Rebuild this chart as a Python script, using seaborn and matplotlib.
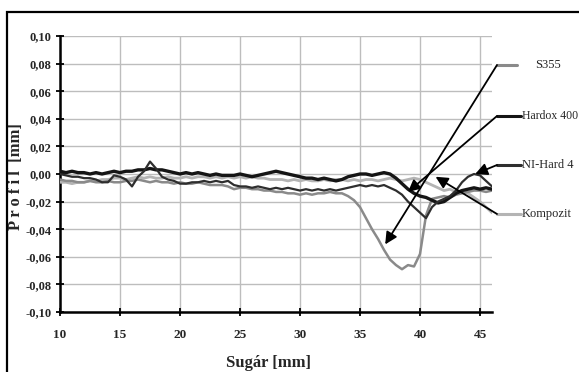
import numpy as np
import pandas as pd
import matplotlib
matplotlib.use("Agg")
import matplotlib.pyplot as plt
import seaborn as sns
from matplotlib.patches import Rectangle

# ---------------- data ----------------
sugar = [10.0, 10.5, 11.0, 11.5, 12.0, 12.5, 13.0, 13.5, 14.0, 14.5,
         15.0, 15.5, 16.0, 16.5, 17.0, 17.5, 18.0, 18.5, 19.0, 19.5,
         20.0, 20.5, 21.0, 21.5, 22.0, 22.5, 23.0, 23.5, 24.0, 24.5,
         25.0, 25.5, 26.0, 26.5, 27.0, 27.5, 28.0, 28.5, 29.0, 29.5,
         30.0, 30.5, 31.0, 31.5, 32.0, 32.5, 33.0, 33.5, 34.0, 34.5,
         35.0, 35.5, 36.0, 36.5, 37.0, 37.5, 38.0, 38.5, 39.0, 39.5,
         40.0, 40.5, 41.0, 41.5, 42.0, 42.5, 43.0, 43.5, 44.0, 44.5,
         45.0, 45.5, 46.0]

s355 = [-0.004, -0.005, -0.005, -0.006, -0.006, -0.005, -0.006, -0.006, -0.005, -0.006,
        -0.006, -0.005, -0.005, -0.004, -0.005, -0.006, -0.005, -0.006, -0.006, -0.007,
        -0.006, -0.007, -0.007, -0.006, -0.007, -0.008, -0.008, -0.008, -0.009, -0.011,
        -0.010, -0.010, -0.011, -0.011, -0.012, -0.012, -0.013, -0.013, -0.014, -0.014,
        -0.015, -0.014, -0.015, -0.014, -0.014, -0.013, -0.014, -0.014, -0.016, -0.019,
        -0.024, -0.032, -0.040, -0.047, -0.055, -0.062, -0.066, -0.069, -0.066, -0.067,
        -0.058, -0.030, -0.018, -0.017, -0.016, -0.017, -0.015, -0.014, -0.013, -0.012,
        -0.012, -0.013, -0.012]

hardox400 = [0.002, 0.001, 0.002, 0.001, 0.001, 0.000, 0.001, 0.000, 0.001, 0.002,
             0.001, 0.002, 0.002, 0.003, 0.003, 0.004, 0.003, 0.003, 0.002, 0.001,
             0.000, 0.001, 0.000, 0.001, 0.000, -0.001, 0.000, -0.001, -0.001, -0.001,
             0.000, -0.001, -0.002, -0.001, 0.000, 0.001, 0.002, 0.001, 0.000, -0.001,
             -0.002, -0.003, -0.003, -0.004, -0.003, -0.004, -0.005, -0.004, -0.002, -0.001,
             0.000, 0.000, -0.001, 0.000, 0.001, 0.000, -0.003, -0.007, -0.011, -0.014,
             -0.016, -0.017, -0.019, -0.021, -0.020, -0.017, -0.014, -0.012, -0.011, -0.010,
             -0.011, -0.010, -0.011]

nihard4 = [0.000, -0.001, -0.002, -0.002, -0.003, -0.003, -0.004, -0.006, -0.006, -0.001,
           -0.002, -0.004, -0.009, -0.002, 0.002, 0.009, 0.004, -0.002, -0.004, -0.005,
           -0.007, -0.007, -0.006, -0.006, -0.005, -0.006, -0.005, -0.006, -0.005, -0.008,
           -0.009, -0.009, -0.010, -0.009, -0.010, -0.011, -0.010, -0.011, -0.010, -0.011,
           -0.012, -0.011, -0.012, -0.011, -0.012, -0.011, -0.012, -0.011, -0.010, -0.009,
           -0.008, -0.009, -0.008, -0.009, -0.008, -0.010, -0.012, -0.015, -0.020, -0.024,
           -0.028, -0.032, -0.024, -0.020, -0.018, -0.016, -0.012, -0.006, -0.002, 0.000,
           -0.001, -0.005, -0.009]

kompozit = [-0.006, -0.006, -0.007, -0.006, -0.006, -0.005, -0.005, -0.004, -0.004, -0.003,
            -0.003, -0.004, -0.003, -0.002, -0.003, -0.002, -0.003, -0.003, -0.002, -0.003,
            -0.003, -0.002, -0.003, -0.002, -0.002, -0.003, -0.002, -0.003, -0.002, -0.003,
            -0.002, -0.003, -0.002, -0.003, -0.003, -0.004, -0.004, -0.004, -0.005, -0.004,
            -0.005, -0.004, -0.005, -0.005, -0.004, -0.005, -0.004, -0.004, -0.005, -0.004,
            -0.005, -0.004, -0.004, -0.005, -0.004, -0.003, -0.004, -0.005, -0.004, -0.003,
            -0.004, -0.006, -0.008, -0.010, -0.012, -0.011, -0.013, -0.012, -0.014, -0.017,
            -0.020, -0.024, -0.028]

series_names = ["S355", "Hardox 400", "NI-Hard 4", "Kompozit"]
series_values = [s355, hardox400, nihard4, kompozit]
x_ticks = [10, 15, 20, 25, 30, 35, 40, 45]
y_ticks = [-0.10, -0.08, -0.06, -0.04, -0.02, 0.00, 0.02, 0.04, 0.06, 0.08, 0.10]
# arrow targets (x, y) for each series label
arrow_targets = [(37.1, -0.051), (39.0, -0.013), (44.6, 0.000), (41.3, -0.002)]

# ---------------- styling ----------------
colors = {"S355": "#8a8a8a", "Hardox 400": "#151515", "NI-Hard 4": "#2e2e2e", "Kompozit": "#b4b4b4"}
widths = {"S355": 1.8, "Hardox 400": 2.4, "NI-Hard 4": 1.6, "Kompozit": 2.0}
zorders = {"Kompozit": 3, "S355": 4, "Hardox 400": 5, "NI-Hard 4": 6}

sns.set_theme(style="white")
plt.rcParams["font.family"] = ["Liberation Serif", "DejaVu Serif"]

df = pd.DataFrame({
    "Sugár": sugar * 4,
    "Profil": sum(series_values, []),
    "Anyag": sum([[n] * len(sugar) for n in series_names], []),
})

fig = plt.figure(figsize=(5.79, 3.72), dpi=100)
ax = fig.add_axes([60 / 579, 1 - 312 / 372, (492 - 60) / 579, (312 - 36) / 372])

for name in ["Kompozit", "S355", "Hardox 400", "NI-Hard 4"]:
    sub = df[df["Anyag"] == name]
    sns.lineplot(data=sub, x="Sugár", y="Profil", ax=ax, color=colors[name],
                 linewidth=widths[name], zorder=zorders[name], legend=False,
                 estimator=None, sort=False)

ax.set_xlim(10, 46)
ax.set_ylim(-0.10, 0.10)
ax.set_xticks(x_ticks)
ax.set_yticks(y_ticks)
ax.set_xticklabels([str(t) for t in x_ticks], fontsize=9.5, fontweight="bold")
ax.set_yticklabels([f"{t:.2f}".replace(".", ",") for t in y_ticks], fontsize=9, fontweight="bold")
ax.grid(True, color="#bdbdbd", linewidth=1.0, zorder=0)
ax.set_axisbelow(True)
for s in ["top", "right"]:
    ax.spines[s].set_visible(False)
for s in ["left", "bottom"]:
    ax.spines[s].set_color("black")
    ax.spines[s].set_linewidth(1.8)
ax.tick_params(axis="both", which="major", direction="inout", length=6, width=1.3,
               color="black", bottom=True, left=True)
ax.tick_params(axis="x", pad=9)
ax.tick_params(axis="y", pad=3)
ax.set_xlabel("Sugár [mm]", fontsize=12, fontweight="bold")
ax.xaxis.set_label_coords((268 - 60) / (492 - 60), -(355 - 312) / (312 - 36))
ax.set_ylabel("P r o f i l  [mm]", fontsize=12, fontweight="bold")
ax.yaxis.set_label_coords(-(60 - 24) / (492 - 60), (312 - 177) / (312 - 36))

# legend-like labels with arrows on the right
leg_y_px = [65, 116, 165, 214]
for name, ypx, (tx, ty) in zip(series_names, leg_y_px, arrow_targets):
    y0 = (174 - ypx) * 0.02 / 27.6
    x0 = 10 + (497 - 60) / 12
    x1 = 10 + ((517 if name == "S355" else 521) - 60) / 12
    ax.plot([x0, x1], [y0, y0], color=colors[name], linewidth=2.2, clip_on=False, zorder=7)
    tx_lab = 10 + ((535 if name == "S355" else 522) - 60) / 12
    ax.text(tx_lab, y0, name, fontsize=(8.5 if name == "Hardox 400" else 9),
            va="center", ha="left", clip_on=False)
    ax.annotate("", xy=(tx, ty), xytext=(x0, y0),
                arrowprops=dict(arrowstyle="-|>", color="black", lw=1.3,
                                mutation_scale=18, shrinkA=0, shrinkB=0),
                annotation_clip=False, zorder=8)

# outer frame (only top and left edges visible in the crop)
fig.patches.append(Rectangle((7 / 579, -0.1), 1.2, 1 - 12 / 372 + 0.1,
                             transform=fig.transFigure, fill=False,
                             edgecolor="black", linewidth=1.6))

fig.savefig("out.png", dpi=100)
